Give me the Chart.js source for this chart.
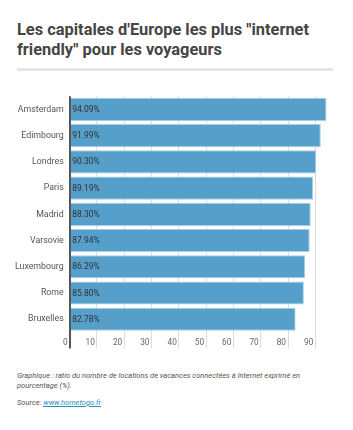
<!DOCTYPE html>
<html><head><meta charset="utf-8">
<script src="https://cdn.jsdelivr.net/npm/chart.js@4/dist/chart.umd.min.js"></script>
<style>
html,body{margin:0;padding:0;background:#fff;width:353px;height:430px;overflow:hidden;font-family:Roboto,"Noto Sans",sans-serif;}
#title{position:absolute;left:17px;top:20px;width:330px;font-size:16.4px;font-weight:700;color:#454545;line-height:19.5px;}
#rule{position:absolute;left:17px;top:68px;width:316px;height:3px;background:#e6e6e6;}
#wrap{position:absolute;left:0;top:85px;width:340px;height:270px;}
#note{position:absolute;left:17px;top:370.5px;width:320px;font-size:7.5px;font-style:italic;color:#555;line-height:10px;}
#src{position:absolute;left:17px;top:398px;font-size:7.5px;font-style:italic;color:#555;line-height:10px;}
#src a{color:#2a90c8;text-decoration:underline;}
</style></head>
<body>
<div id="title">Les capitales d'Europe les plus "internet friendly" pour les voyageurs</div>
<div id="rule"></div>
<div id="wrap"><canvas id="c"></canvas></div>
<div id="note">Graphique : ratio du nombre de locations de vacances connectées à Internet exprimé en pourcentage (%).</div>
<div id="src">Source: <a>www.hometogo.fr</a></div>
<script>
const categories = ["Amsterdam","Edimbourg","Londres","Paris","Madrid","Varsovie","Luxembourg","Rome","Bruxelles"];
const values = [94.09,91.99,90.30,89.19,88.30,87.94,86.29,85.80,82.78];
const xTicks = [0,10,20,30,40,50,60,70,80,90];

const valueLabels = {
  id:'valueLabels',
  afterDatasetsDraw(chart){
    const ctx = chart.ctx;
    const meta = chart.getDatasetMeta(0);
    ctx.save();
    ctx.font = '8.5px Roboto';
    ctx.fillStyle = '#333';
    ctx.textBaseline = 'middle';
    ctx.textAlign = 'left';
    meta.data.forEach((bar,i)=>{
      ctx.fillText(values[i].toFixed(2)+'%', bar.base+1.5, bar.y+0.5);
    });
    ctx.restore();
  }
};

new Chart(document.getElementById('c'),{
  type:'bar',
  data:{labels:categories,datasets:[{data:values,backgroundColor:'#559fca',borderColor:'#a8cfe6',borderWidth:1,barPercentage:0.88,categoryPercentage:1}]},
  options:{
    indexAxis:'y',responsive:true,maintainAspectRatio:false,animation:false,
    layout:{padding:{top:7,right:11,left:0,bottom:0}},
    plugins:{legend:{display:false},tooltip:{enabled:false}},
    scales:{
      x:{min:0,max:95,
        afterBuildTicks(s){s.ticks = xTicks.map(v=>({value:v}));},
        afterFit(s){s.height=22.6;},
        border:{display:false},
        grid:{color:c=>c.tick&&c.tick.value===0?'#555':'#dcdcdc',lineWidth:c=>c.tick&&c.tick.value===0?2:1,tickLength:16,drawTicks:true},
        ticks:{align:'end',padding:-10,color:'#666',font:{family:'Roboto',size:8.3},maxRotation:0,autoSkip:false,callback:v=>v+' '}
      },
      y:{
        afterFit(s){s.width=69.7;},
        border:{display:false},
        grid:{display:false,drawTicks:false},
        ticks:{padding:6,color:'#555',font:{family:'Roboto',size:8.8}}
      }
    }
  },
  plugins:[valueLabels]
});
</script>
</body></html>
